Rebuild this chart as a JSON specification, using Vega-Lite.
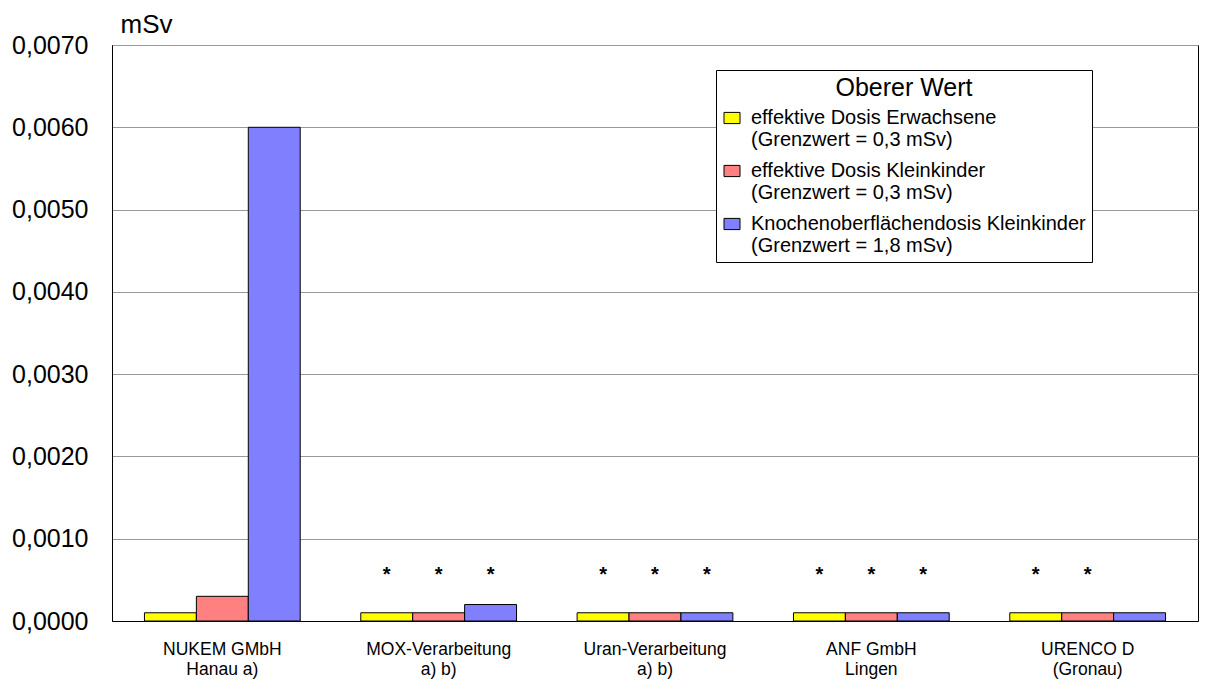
{
  "$schema": "https://vega.github.io/schema/vega-lite/v6.json",
  "width": 1086,
  "height": 576,
  "autosize": "none",
  "padding": {"left": 112, "top": 45, "right": 13, "bottom": 59},
  "background": "white",
  "config": {
    "font": "Liberation Sans",
    "view": {"stroke": "black", "strokeWidth": 1}
  },
  "data": {
    "values": [
      {"standort": "NUKEM GMbH|Hanau a)", "reihe": "effektive Dosis Erwachsene|(Grenzwert = 0,3 mSv)", "wert": 0.0001, "hinweis": ""},
      {"standort": "NUKEM GMbH|Hanau a)", "reihe": "effektive Dosis Kleinkinder|(Grenzwert = 0,3 mSv)", "wert": 0.0003, "hinweis": ""},
      {"standort": "NUKEM GMbH|Hanau a)", "reihe": "Knochenoberflächendosis Kleinkinder|(Grenzwert = 1,8 mSv)", "wert": 0.006, "hinweis": ""},
      {"standort": "MOX-Verarbeitung|a) b)", "reihe": "effektive Dosis Erwachsene|(Grenzwert = 0,3 mSv)", "wert": 0.0001, "hinweis": "*"},
      {"standort": "MOX-Verarbeitung|a) b)", "reihe": "effektive Dosis Kleinkinder|(Grenzwert = 0,3 mSv)", "wert": 0.0001, "hinweis": "*"},
      {"standort": "MOX-Verarbeitung|a) b)", "reihe": "Knochenoberflächendosis Kleinkinder|(Grenzwert = 1,8 mSv)", "wert": 0.0002, "hinweis": "*"},
      {"standort": "Uran-Verarbeitung|a) b)", "reihe": "effektive Dosis Erwachsene|(Grenzwert = 0,3 mSv)", "wert": 0.0001, "hinweis": "*"},
      {"standort": "Uran-Verarbeitung|a) b)", "reihe": "effektive Dosis Kleinkinder|(Grenzwert = 0,3 mSv)", "wert": 0.0001, "hinweis": "*"},
      {"standort": "Uran-Verarbeitung|a) b)", "reihe": "Knochenoberflächendosis Kleinkinder|(Grenzwert = 1,8 mSv)", "wert": 0.0001, "hinweis": "*"},
      {"standort": "ANF GmbH|Lingen", "reihe": "effektive Dosis Erwachsene|(Grenzwert = 0,3 mSv)", "wert": 0.0001, "hinweis": "*"},
      {"standort": "ANF GmbH|Lingen", "reihe": "effektive Dosis Kleinkinder|(Grenzwert = 0,3 mSv)", "wert": 0.0001, "hinweis": "*"},
      {"standort": "ANF GmbH|Lingen", "reihe": "Knochenoberflächendosis Kleinkinder|(Grenzwert = 1,8 mSv)", "wert": 0.0001, "hinweis": "*"},
      {"standort": "URENCO D|(Gronau)", "reihe": "effektive Dosis Erwachsene|(Grenzwert = 0,3 mSv)", "wert": 0.0001, "hinweis": "*"},
      {"standort": "URENCO D|(Gronau)", "reihe": "effektive Dosis Kleinkinder|(Grenzwert = 0,3 mSv)", "wert": 0.0001, "hinweis": "*"},
      {"standort": "URENCO D|(Gronau)", "reihe": "Knochenoberflächendosis Kleinkinder|(Grenzwert = 1,8 mSv)", "wert": 0.0001, "hinweis": ""}
    ]
  },
  "encoding": {
    "x": {
      "field": "standort",
      "type": "nominal",
      "sort": null,
      "scale": {"paddingInner": 0.28, "paddingOuter": 0.15},
      "axis": {
        "title": null,
        "labelAngle": 0,
        "labelExpr": "split(datum.label, '|')",
        "labelFontSize": 17.5,
        "labelColor": "black",
        "labelPadding": 19,
        "ticks": false,
        "domainColor": "black",
        "labelLineHeight": 20
      }
    },
    "xOffset": {
      "field": "reihe",
      "type": "nominal",
      "sort": null,
      "scale": {"paddingInner": 0, "paddingOuter": 0}
    }
  },
  "layer": [
    {
      "mark": {"type": "bar", "stroke": "black", "strokeWidth": 1},
      "encoding": {
        "y": {
          "field": "wert",
          "type": "quantitative",
          "scale": {"domain": [0, 0.007]},
          "axis": {
            "title": "mSv",
            "titleAngle": 0,
            "titleAlign": "left",
            "titleAnchor": "end",
            "titleX": 8,
            "titleY": -13,
            "titleBaseline": "alphabetic",
            "titleFontSize": 26,
            "titleFontWeight": "normal",
            "titleColor": "black",
            "values": [0, 0.001, 0.002, 0.003, 0.004, 0.005, 0.006, 0.007],
            "labelExpr": "replace(format(datum.value, '.4f'), '.', ',')",
            "labelFontSize": 25,
            "labelColor": "black",
            "labelPadding": 24,
            "ticks": false,
            "domainColor": "black",
            "gridColor": "#999999",
            "gridWidth": 1
          }
        },
        "fill": {
          "field": "reihe",
          "type": "nominal",
          "sort": null,
          "scale": {"range": ["#ffff00", "#ff8080", "#8080ff"]},
          "legend": {
            "title": "Oberer Wert",
            "orient": "none",
            "legendX": 604,
            "legendY": 25,
            "direction": "vertical",
            "fillColor": "white",
            "strokeColor": "black",
            "padding": 6,
            "titleFontSize": 25,
            "titleFontWeight": "normal",
            "titleColor": "black",
            "titleAnchor": "middle",
            "titleAlign": "center",
            "titlePadding": 7,
            "labelExpr": "split(datum.label, '|')",
            "labelFontSize": 20,
            "labelLineHeight": 23,
            "labelColor": "black",
            "labelLimit": 500,
            "labelOffset": 9,
            "rowPadding": 11,
            "symbolType": "M-1,-0.7L1,-0.7L1,0.7L-1,0.7Z",
            "symbolSize": 256,
            "symbolStrokeColor": "black",
            "symbolStrokeWidth": 1,
            "symbolOpacity": 1
          }
        }
      }
    },
    {
      "mark": {"type": "text", "fontSize": 20, "fontWeight": "bold", "baseline": "middle", "color": "black"},
      "encoding": {
        "y": {"datum": 0.00056},
        "text": {"field": "hinweis"}
      }
    }
  ]
}
